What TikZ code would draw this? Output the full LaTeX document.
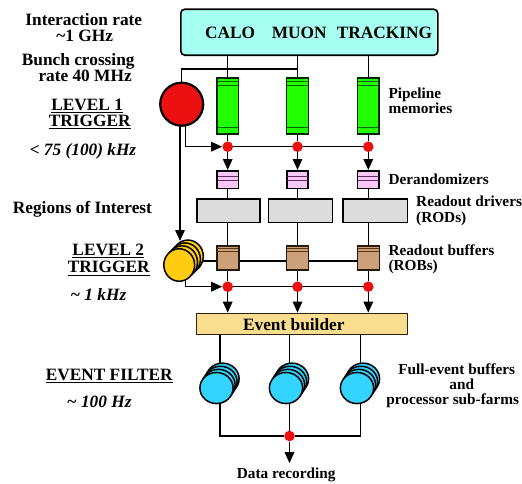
\documentclass[tikz,border=0pt]{standalone}
\usepackage{fontspec}
\setmainfont{Liberation Serif}
\usetikzlibrary{arrows.meta,calc,backgrounds,shapes.geometric}

\definecolor{detcyan}{RGB}{166,255,240}
\definecolor{trigred}{RGB}{236,16,16}
\definecolor{pipegreen}{RGB}{34,255,0}
\definecolor{pipedark}{RGB}{0,100,0}
\definecolor{derpink}{RGB}{246,200,248}
\definecolor{derdark}{RGB}{100,40,100}
\definecolor{rodgrey}{RGB}{220,220,220}
\definecolor{robtan}{RGB}{204,160,120}
\definecolor{robdark}{RGB}{90,55,20}
\definecolor{lvtwoyellow}{RGB}{255,204,17}
\definecolor{evbyellow}{RGB}{248,222,142}
\definecolor{efcyan}{RGB}{51,212,255}

\begin{document}
\begin{tikzpicture}[x=1pt,y=-1pt,
  txtL/.style={font=\fontsize{17.3}{18}\selectfont\bfseries, inner sep=0pt},
  txtLi/.style={font=\fontsize{17.3}{18}\selectfont\bfseries\itshape, inner sep=0pt},
  txtS/.style={font=\fontsize{15.3}{16}\selectfont\bfseries, inner sep=0pt},
  wire/.style={line width=1.5pt},
  arr/.style={wire,-{Triangle[length=11pt,width=9.5pt]}},
  unit/.style={draw, line width=1.6pt, inner sep=0pt, rectangle},
  rdot/.style={circle, fill=trigred, minimum size=10.6pt, inner sep=0pt},
  pipebox/.style={unit, fill=pipegreen, draw=black!85!green, minimum width=21.7pt, minimum height=55.8pt},
  derbox/.style={unit, fill=derpink, minimum width=21.5pt, minimum height=17.8pt},
  rodbox/.style={unit, fill=rodgrey, minimum height=23.4pt},
  robbox/.style={unit, fill=robtan, draw=black!80!brown, minimum width=22pt, minimum height=24.5pt},
  ltwodisc/.style={ellipse, draw, line width=1.5pt, fill=lvtwoyellow, minimum width=30.8pt, minimum height=32.5pt, inner sep=0pt},
  efdisc/.style={ellipse, draw, line width=1.5pt, fill=efcyan, minimum width=33.2pt, minimum height=31.1pt, inner sep=0pt},
  uline/.style={line width=1pt},
]
\useasboundingbox (0,0) rectangle (522,483);

% detector front-ends
\node[unit, rounded corners=4pt, fill=detcyan, minimum width=257pt, minimum height=46pt] (det) at (309.3,32.2) {};
\node[txtL, anchor=base west] at (205,38.3) {CALO};
\node[txtL, anchor=base west] at (271.7,38.3) {MUON};
\node[txtL, anchor=base west] at (336.7,38.3) {TRACKING};

% readout columns: pipelines, derandomizers, ROBs and the red junctions
\foreach \n/\x in {1/227.7, 2/297.5, 3/368.3} {
  \node[pipebox] (pipe\n) at (\x,106) {};
  \node[rdot] (da\n) at (\x,146.7) {};
  \node[derbox] (der\n) at (\x,179.7) {};
  \node[robbox] (rob\n) at (\x,258) {};
  \node[rdot] (db\n) at (\x,286.7) {};
  \draw[pipedark, line width=1pt] ({\x-10.3},81.4) -- ({\x+10.3},81.4)
    ({\x-10.3},85.4) -- ({\x+10.3},85.4)
    ({\x-10.3},127.7) -- ({\x+10.3},127.7);
  \draw[derdark, line width=1pt] ({\x-10.2},176.7) -- ({\x+10.2},176.7)
    ({\x-10.2},180.7) -- ({\x+10.2},180.7);
  \draw[robdark, line width=0.9pt] ({\x-10.5},248.8) -- ({\x+10.5},248.8)
    ({\x-10.5},251.8) -- ({\x+10.5},251.8);
}

% readout drivers
\node[rodbox, minimum width=63pt] (rod1) at (228.3,210.8) {};
\node[rodbox, minimum width=64pt] (rod2) at (300.5,210.8) {};
\node[rodbox, minimum width=64.5pt] (rod3) at (375.3,210.8) {};

% level-1 trigger
\node[circle, draw, line width=2.2pt, fill=trigred, minimum size=43pt, inner sep=0pt] (l1) at (181.7,104.2) {};

% level-2 trigger processors
\foreach \i in {3,2,1}
  \node[ltwodisc] (l2-\i) at ({179.2+2.9*\i},{265-2.9*\i}) {};
\node[ltwodisc] (l2) at (179.2,265) {};

% event builder
\node[unit, fill=evbyellow, line width=1.5pt, draw=black!75!brown, minimum width=211pt, minimum height=21pt] (evb) at (302.2,323.9) {};
\node[txtL, anchor=base] at (293.8,330.5) {Event builder};

% event filter sub-farms
\foreach \n/\x in {1/216.5, 2/286, 3/357} {
  \foreach \i in {3,2,1}
    \node[efdisc] (ef\n-\i) at ({\x+2*\i},{388-3.1*\i}) {};
  \node[efdisc] (ef\n) at (\x,388) {};
}

% data recording
\node[rdot] (dr) at (289.5,436) {};
\node[txtS, anchor=base] (rec) at (286.2,478) {Data recording};

% connectors
\coordinate (l1feed) at (297.5,69);
\coordinate (l2in) at (180,241);
\coordinate (robbus) at (190,261);
\begin{scope}[on background layer]
  \foreach \n in {1,2,3}
    \draw[wire] (pipe\n.north |- det.south) -- (pipe\n.north);
  \draw[wire] (l1.center) |- (l1feed);
  \draw[arr] ([xshift=-1.7pt]l1.center) -- ([xshift=-1.7pt]l1.center |- l2in);
  \draw[arr] ([xshift=4pt]l1.center) |- (da1.west);
  \draw[wire] (da1) -- (da3);
  \foreach \n in {1,2,3} {
    \draw[wire] (pipe\n.south) -- (da\n);
    \draw[arr] (da\n.south) -- (der\n.north);
    \draw[wire] (der\n.south) -- (der\n.south |- rod\n.north);
    \draw[wire] (rob\n.north |- rod\n.south) -- (rob\n.north);
    \draw[wire] (rob\n.south) -- (db\n);
    \draw[arr] (db\n.south) -- (db\n.south |- evb.north);
  }
  \draw[wire] (robbus) -- (rob3.west |- robbus);
  \draw[arr] ([xshift=6.5pt]l2.center) |- (db1.west);
  \draw[wire] (db1) -- (db3);
  \foreach \n in {1,2,3}
    \draw[wire] ([xshift=3.5pt]ef\n.center |- evb.south) -- ([xshift=3.5pt]ef\n.center);
  \draw[wire] ([xshift=3.5pt]ef1.center) |- (dr) -| ([xshift=3.5pt]ef3.center);
  \draw[wire] ([xshift=3.5pt]ef2.center) -- (dr);
\end{scope}
\draw[arr, shorten >=4pt] (dr.south) -- (dr.south |- rec.north);

% rates and trigger levels
\node[txtL, anchor=base] at (83.8,25.7) {Interaction rate};
\node[txtL, anchor=base] at (84.7,41.7) {\textasciitilde1 GHz};
\node[txtL, anchor=base west] at (21.7,65) {Bunch crossing};
\node[txtL, anchor=base west] at (38.3,81.7) {rate 40 MHz};
\node[txtL, anchor=base] (lvA) at (87.2,110) {LEVEL 1};
\node[txtL, anchor=base] (trA) at (89.7,126) {TRIGGER};
\node[txtLi, anchor=base] at (83,155) {< 75 (100) kHz};
\node[txtL, anchor=base west] at (12.7,213.3) {Regions of Interest};
\node[txtL, anchor=base] (lvB) at (108.3,255) {LEVEL 2};
\node[txtL, anchor=base] (trB) at (108.7,272.7) {TRIGGER};
\node[txtLi, anchor=base] at (98.3,300) {\textasciitilde{} 1 kHz};
\node[txtL, anchor=base] (efl) at (109.2,380) {EVENT FILTER};
\node[txtLi, anchor=base] at (99.2,407.3) {\textasciitilde{} 100 Hz};
\foreach \t in {lvA,trA,lvB,trB,efl}
  \draw[uline] ($(\t.base west)+(0,2.5)$) -- ($(\t.base east)+(0,2.5)$);

% component labels
\node[txtS, anchor=base west] at (388.3,98.3) {Pipeline};
\node[txtS, anchor=base west] at (388.3,113.3) {memories};
\node[txtS, anchor=base west] at (388.3,184) {Derandomizers};
\node[txtS, anchor=base west] at (416,206.7) {Readout drivers};
\node[txtS, anchor=base west] at (416,222.3) {(RODs)};
\node[txtS, anchor=base west] at (388.3,255) {Readout buffers};
\node[txtS, anchor=base west] at (388.3,270.7) {(ROBs)};
\node[txtS, anchor=base] at (456.7,374) {Full-event buffers};
\node[txtS, anchor=base] at (461.7,389.3) {and};
\node[txtS, anchor=base] at (452.7,404) {processor sub-farms};
\end{tikzpicture}
\end{document}
